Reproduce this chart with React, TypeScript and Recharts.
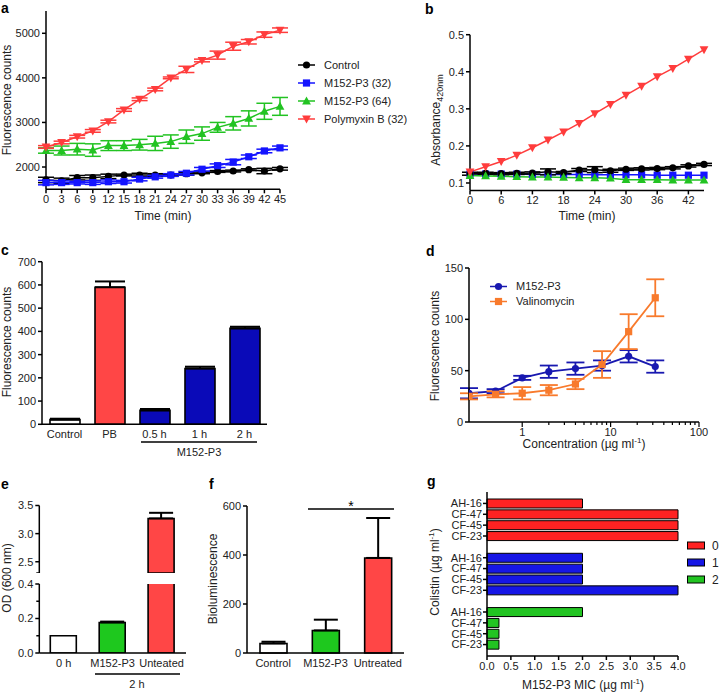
import React from 'react';
import { LineChart, Line, BarChart, Bar, XAxis, YAxis, ErrorBar, Legend, Cell } from 'recharts';

const FONT = '"Liberation Sans", Arial, Helvetica, sans-serif';
const TXT = '#222';

// ---------- panel a ----------
const timeA = [0, 3, 6, 9, 12, 15, 18, 21, 24, 27, 30, 33, 36, 39, 42, 45];
const controlA = [1710, 1690, 1760, 1760, 1790, 1820, 1820, 1820, 1820, 1850, 1870, 1900, 1910, 1940, 1910, 1960];
const controlAErr = [60, 60, 50, 60, 50, 20, 40, 30, 20, 30, 20, 20, 20, 20, 60, 30];
const m32A = [1650, 1650, 1650, 1650, 1670, 1670, 1730, 1780, 1820, 1860, 1950, 2030, 2110, 2230, 2360, 2430];
const m32AErr = [50, 40, 30, 40, 40, 30, 40, 30, 30, 40, 40, 40, 60, 40, 40, 40];
const m64A = [2370, 2370, 2400, 2380, 2480, 2480, 2500, 2530, 2570, 2680, 2750, 2890, 2980, 3090, 3250, 3360];
const m64AErr = [60, 100, 130, 140, 110, 110, 120, 160, 150, 150, 150, 110, 150, 170, 180, 200];
const pbA = [2450, 2550, 2680, 2810, 3020, 3280, 3520, 3740, 4000, 4190, 4390, 4510, 4710, 4810, 4970, 5070];
const pbAErr = [30, 30, 30, 30, 30, 30, 30, 30, 20, 70, 30, 90, 90, 50, 60, 50];
const yTicksA = [2000, 3000, 4000, 5000];
const legendA = ['Control', 'M152-P3 (32)', 'M152-P3 (64)', 'Polymyxin B (32)'];

// ---------- panel b ----------
const timeB = [0, 3, 6, 9, 12, 15, 18, 21, 24, 27, 30, 33, 36, 39, 42, 45];
const controlB = [0.125, 0.126, 0.125, 0.126, 0.127, 0.130, 0.128, 0.135, 0.136, 0.133, 0.137, 0.138, 0.139, 0.141, 0.146, 0.150];
const controlBErr = [0.004, 0.003, 0.003, 0.003, 0.003, 0.008, 0.003, 0.004, 0.008, 0.004, 0.003, 0.003, 0.003, 0.003, 0.003, 0.003];
const m32B = [0.124, 0.124, 0.124, 0.124, 0.123, 0.123, 0.123, 0.123, 0.122, 0.122, 0.122, 0.122, 0.121, 0.121, 0.121, 0.121];
const m64B = [0.120, 0.119, 0.118, 0.117, 0.116, 0.116, 0.115, 0.114, 0.114, 0.113, 0.109, 0.109, 0.109, 0.108, 0.108, 0.108];
const pbB = [0.130, 0.144, 0.158, 0.175, 0.195, 0.216, 0.238, 0.261, 0.287, 0.312, 0.337, 0.361, 0.387, 0.409, 0.434, 0.460];
const xTicksB = [0, 6, 12, 18, 24, 30, 36, 42];
const yTicksB = [0.1, 0.2, 0.3, 0.4, 0.5];

// ---------- panel c ----------
const catsC = ['Control', 'PB', '0.5 h', '1 h', '2 h'];
const valsC = [20, 590, 60, 240, 413];
const errC = [4, 25, 6, 8, 7];
const yTicksC = [0, 100, 200, 300, 400, 500, 600, 700];

// ---------- panel d ----------
const concD = [0.25, 0.5, 1, 2, 4, 8, 16, 32];
const m152D = [28, 30, 43, 49, 52, 55, 64, 54];
const m152DErr = [5, 2, 2, 6, 6, 5, 6, 6];
const valinoD = [25, 27, 28, 31, 37, 56, 88, 121];
const valinoDErr = [3, 3, 6, 5, 5, 13, 17, 18];
const majorD = [1, 10, 100];
const minorD = [2, 3, 4, 5, 6, 7, 8, 9, 20, 30, 40, 50, 60, 70, 80, 90];
const yTicksD = [0, 50, 100, 150];
const legendD = ['M152-P3', 'Valinomycin'];

// ---------- panel e ----------
const catsE = ['0 h', 'M152-P3', 'Unteated'];
const valsE = [0.1, 0.177, 3.27];
const errE = [0, 0.005, 0.1];
const upperTicksE = [2.3, 2.5, 3.0, 3.5];
const upperLabelsE = [2.5, 3.0, 3.5];
const lowerTicksE = [0, 0.1, 0.2, 0.3, 0.4];
const lowerLabelsE = [0, 0.2, 0.4];

// ---------- panel f ----------
const catsF = ['Control', 'M152-P3', 'Untreated'];
const valsF = [39, 92, 388];
const errF = [7, 44, 163];
const yTicksF = [0, 200, 400, 600];

// ---------- panel g ----------
const strainsG = ['AH-16', 'CF-47', 'CF-45', 'CF-23'];
const micCol0 = [2, 4, 4, 4];
const micCol1 = [2, 2, 2, 4];
const micCol2 = [2, 0.25, 0.25, 0.25];
const legendG = ['0', '1', '2'];
const xTicksG = [0, 0.5, 1, 1.5, 2, 2.5, 3, 3.5, 4];

// ---------- styles ----------
const RED = '#ff3c3c';
const BLUE = '#1414ff';
const GREEN = '#22c322';
const BLACK = '#000';
const BAR_RED = '#ff4646';
const BAR_BLUE = '#0a0ab8';
const BAR_GREEN = '#1ec81e';
const D_BLUE = '#1818b0';
const D_ORANGE = '#f87a2c';
const G_COLORS = ['#ff2222', '#1616e6', '#22c422'];
const colorsC = ['#ffffff', BAR_RED, BAR_BLUE, BAR_BLUE, BAR_BLUE];
const colorsE = ['#ffffff', BAR_GREEN, BAR_RED];
const colorsF = ['#ffffff', BAR_GREEN, BAR_RED];

const common = {
  axisLine: { stroke: '#000', strokeWidth: 1.5 },
  tickLine: { stroke: '#000', strokeWidth: 1.5 },
  tick: { fill: TXT, fontSize: 11, fontFamily: FONT },
  tickSize: 4,
  tickMargin: 2,
  interval: 0 as const,
};

type Shape = 'circle' | 'square' | 'up' | 'down';

function Marker({ cx, cy, shape, color }: { cx: number; cy: number; shape: Shape; color: string }) {
  if (cx == null || cy == null || isNaN(cx) || isNaN(cy)) return <g />;
  if (shape === 'circle') return <circle cx={cx} cy={cy} r={3.6} fill={color} />;
  if (shape === 'square') return <rect x={cx - 3.6} y={cy - 3.6} width={7.2} height={7.2} fill={color} />;
  if (shape === 'up')
    return <polygon points={`${cx},${cy - 4.6} ${cx + 4.4},${cy + 3.4} ${cx - 4.4},${cy + 3.4}`} fill={color} />;
  return <polygon points={`${cx},${cy + 4.6} ${cx + 4.4},${cy - 3.4} ${cx - 4.4},${cy - 3.4}`} fill={color} />;
}

const dotOf = (shape: Shape, color: string, tag: string) => (p: any) => (
  <Marker key={`${tag}-${p.index}`} cx={p.cx} cy={p.cy} shape={shape} color={color} />
);

const yTickFn = (labelled: number[], fmt: (v: number) => string) => (p: any) => {
  const v = p.payload.value;
  const major = labelled.includes(v);
  const len = major ? 4 : 3;
  return (
    <g>
      <line x1={p.x - len} x2={p.x} y1={p.y} y2={p.y} stroke="#000" strokeWidth={1.5} />
      {major && (
        <text x={p.x - 6} y={p.y} dy="0.355em" textAnchor="end" fontSize={11} fill={TXT} fontFamily={FONT}>
          {fmt(v)}
        </text>
      )}
    </g>
  );
};

const logTickD = (p: any) => {
  const v = p.payload.value;
  const major = majorD.includes(v);
  return (
    <g>
      <line x1={p.x} x2={p.x} y1={p.y} y2={p.y + (major ? 5 : 3)} stroke="#000" strokeWidth={1.2} />
      {major && (
        <text x={p.x} y={p.y + 6} dy="0.71em" textAnchor="middle" fontSize={11} fill={TXT} fontFamily={FONT}>
          {v}
        </text>
      )}
    </g>
  );
};

function LineLegend({ items, gap, width }: { items: { label: string; color: string; shape: Shape }[]; gap: number; width: number }) {
  return (
    <svg width={width} height={items.length * gap} style={{ overflow: 'visible' }}>
      {items.map((it, i) => {
        const y = gap / 2 + i * gap;
        return (
          <g key={it.label}>
            <line x1={0} x2={17} y1={y} y2={y} stroke={it.color} strokeWidth={1.5} />
            <Marker cx={8.5} cy={y} shape={it.shape} color={it.color} />
            <text x={26} y={y} dy="0.355em" fontSize={11} fill={TXT} fontFamily={FONT}>
              {it.label}
            </text>
          </g>
        );
      })}
    </svg>
  );
}

// ---------- data tables ----------
const dataA = timeA.map((t, i) => ({
  t,
  ctrl: controlA[i], ctrlErr: controlAErr[i],
  m32: m32A[i], m32Err: m32AErr[i],
  m64: m64A[i], m64Err: m64AErr[i],
  pb: pbA[i], pbErr: pbAErr[i],
}));
const dataB = timeB.map((t, i) => ({
  t,
  ctrl: controlB[i], ctrlErr: controlBErr[i],
  m32: m32B[i], m64: m64B[i], pb: pbB[i],
}));
const dataC = catsC.map((c, i) => ({ cat: c, val: valsC[i], err: [0, errC[i]] }));
const dataD = concD.map((c, i) => ({ c, m: m152D[i], mErr: m152DErr[i], v: valinoD[i], vErr: valinoDErr[i] }));
const BREAK_LOW = 2.3;
const LOWER_MAX = 0.4;
const dataEUpper = catsE.map((c, i) => ({
  cat: c,
  val: valsE[i] >= BREAK_LOW ? valsE[i] : null,
  err: valsE[i] >= BREAK_LOW && errE[i] ? [0, errE[i]] : 0,
}));
const dataELower = catsE.map((c, i) => ({
  cat: c,
  val: valsE[i],
  err: valsE[i] <= LOWER_MAX && errE[i] ? [0, errE[i]] : 0,
}));
const dataF = catsF.map((c, i) => ({ cat: c, val: valsF[i], err: [0, errF[i]] }));
const rowsG: { id: string; strain: string; mic: number | null; group: number }[] = [];
[micCol0, micCol1, micCol2].forEach((arr, g) => {
  if (g > 0) rowsG.push({ id: `gap${g}`, strain: '', mic: null, group: -1 });
  strainsG.forEach((s, i) => rowsG.push({ id: `r${g}-${i}`, strain: s, mic: arr[i], group: g }));
});
const strainById: Record<string, string> = {};
rowsG.forEach((r) => (strainById[r.id] = r.strain));

const tickG = (p: any) => {
  const lbl = strainById[p.payload.value];
  if (!lbl) return <g />;
  return (
    <g>
      <line x1={p.x - 4} x2={p.x} y1={p.y} y2={p.y} stroke="#000" strokeWidth={1.5} />
      <text x={p.x - 5} y={p.y} dy="0.355em" textAnchor="end" fontSize={11} fill={TXT} fontFamily={FONT}>
        {lbl}
      </text>
    </g>
  );
};

function ChartA() {
  const items = [
    { label: legendA[0], color: BLACK, shape: 'circle' as Shape },
    { label: legendA[1], color: BLUE, shape: 'square' as Shape },
    { label: legendA[2], color: GREEN, shape: 'up' as Shape },
    { label: legendA[3], color: RED, shape: 'down' as Shape },
  ];
  return (
    <LineChart width={420} height={230} data={dataA} margin={{ top: 11, right: 140, bottom: 0, left: 0 }}>
      <XAxis dataKey="t" type="number" domain={[0, 45]} ticks={timeA} height={40.7} {...common} />
      <YAxis type="number" domain={[1500, 5500]} ticks={yTicksA} width={46} {...common} />
      <Line dataKey="ctrl" stroke={BLACK} strokeWidth={1.5} dot={dotOf('circle', BLACK, 'ac')} activeDot={false} isAnimationActive={false}>
        <ErrorBar dataKey="ctrlErr" width={8} stroke={BLACK} strokeWidth={1.5} />
      </Line>
      <Line dataKey="m32" stroke={BLUE} strokeWidth={1.5} dot={dotOf('square', BLUE, 'ab')} activeDot={false} isAnimationActive={false}>
        <ErrorBar dataKey="m32Err" width={8} stroke={BLUE} strokeWidth={1.5} />
      </Line>
      <Line dataKey="m64" stroke={GREEN} strokeWidth={1.5} dot={dotOf('up', GREEN, 'ag')} activeDot={false} isAnimationActive={false}>
        <ErrorBar dataKey="m64Err" width={8} stroke={GREEN} strokeWidth={1.5} />
      </Line>
      <Line dataKey="pb" stroke={RED} strokeWidth={1.5} dot={dotOf('down', RED, 'ar')} activeDot={false} isAnimationActive={false}>
        <ErrorBar dataKey="pbErr" width={8} stroke={RED} strokeWidth={1.5} />
      </Line>
      <Legend
        layout="vertical"
        align="center"
        verticalAlign="middle"
        wrapperStyle={{ left: 298, top: 56, width: 120 }}
        content={() => <LineLegend items={items} gap={18} width={120} />}
      />
    </LineChart>
  );
}

function ChartB() {
  return (
    <LineChart width={315} height={230} data={dataB} margin={{ top: 34.7, right: 11, bottom: 0, left: 0 }}>
      <XAxis dataKey="t" type="number" domain={[0, 45]} ticks={xTicksB} height={39.6} {...common} />
      <YAxis type="number" domain={[0.08, 0.5]} ticks={yTicksB} width={70} tickFormatter={(v: number) => v.toFixed(1)} {...common} />
      <Line dataKey="m32" stroke={BLUE} strokeWidth={1.5} dot={dotOf('square', BLUE, 'bb')} activeDot={false} isAnimationActive={false} />
      <Line dataKey="ctrl" stroke={BLACK} strokeWidth={1.5} dot={dotOf('circle', BLACK, 'bc')} activeDot={false} isAnimationActive={false}>
        <ErrorBar dataKey="ctrlErr" width={8} stroke={BLACK} strokeWidth={1.5} />
      </Line>
      <Line dataKey="m64" stroke={GREEN} strokeWidth={1.5} dot={dotOf('up', GREEN, 'bg')} activeDot={false} isAnimationActive={false} />
      <Line dataKey="pb" stroke={RED} strokeWidth={1.5} dot={dotOf('down', RED, 'br')} activeDot={false} isAnimationActive={false} />
    </LineChart>
  );
}

function ChartC() {
  return (
    <BarChart width={280} height={210} data={dataC} margin={{ top: 11.7, right: 13, bottom: 0, left: 0 }}>
      <XAxis dataKey="cat" height={35.7} {...common} tickLine={false} />
      <YAxis type="number" domain={[0, 700]} ticks={yTicksC} width={42} {...common} />
      <Bar dataKey="val" barSize={30} stroke="#000" strokeWidth={1.6} isAnimationActive={false}>
        {catsC.map((c, i) => (
          <Cell key={c} fill={colorsC[i]} />
        ))}
        <ErrorBar dataKey="err" width={15} stroke="#000" strokeWidth={2} />
      </Bar>
    </BarChart>
  );
}

function ChartD() {
  const items = [
    { label: legendD[0], color: D_BLUE, shape: 'circle' as Shape },
    { label: legendD[1], color: D_ORANGE, shape: 'square' as Shape },
  ];
  return (
    <LineChart width={315} height={210} data={dataD} margin={{ top: 18, right: 16, bottom: 0, left: 0 }}>
      <XAxis
        dataKey="c"
        type="number"
        scale="log"
        domain={[0.25, 100]}
        allowDataOverflow
        ticks={[...majorD, ...minorD].sort((a, b) => a - b)}
        height={38}
        axisLine={{ stroke: '#000', strokeWidth: 1.5 }}
        tickLine={false}
        tickSize={0}
        tickMargin={0}
        interval={0}
        tick={logTickD}
      />
      <YAxis type="number" domain={[0, 150]} ticks={yTicksD} width={69} {...common} />
      <Line dataKey="m" stroke={D_BLUE} strokeWidth={1.8} dot={dotOf('circle', D_BLUE, 'dm')} activeDot={false} isAnimationActive={false}>
        <ErrorBar dataKey="mErr" width={9} stroke={D_BLUE} strokeWidth={1.8} />
      </Line>
      <Line dataKey="v" stroke={D_ORANGE} strokeWidth={1.8} dot={dotOf('square', D_ORANGE, 'dv')} activeDot={false} isAnimationActive={false}>
        <ErrorBar dataKey="vErr" width={9} stroke={D_ORANGE} strokeWidth={1.8} />
      </Line>
      <Legend
        layout="vertical"
        align="center"
        verticalAlign="middle"
        wrapperStyle={{ left: 90, top: 28.5, width: 120 }}
        content={() => <LineLegend items={items} gap={15} width={120} />}
      />
    </LineChart>
  );
}

function ChartEUpper() {
  return (
    <BarChart width={190} height={78} data={dataEUpper} margin={{ top: 10.5, right: 4, bottom: 0, left: 0 }}>
      <XAxis dataKey="cat" hide />
      <YAxis
        type="number"
        domain={[BREAK_LOW, 3.5]}
        allowDataOverflow
        ticks={upperTicksE}
        width={39.3}
        axisLine={{ stroke: '#000', strokeWidth: 1.5 }}
        tickLine={false}
        tickSize={0}
        tickMargin={0}
        interval={0}
        tick={yTickFn(upperLabelsE, (v) => v.toFixed(1))}
      />
      <Bar dataKey="val" barSize={26} stroke="#000" strokeWidth={1.6} isAnimationActive={false}>
        {catsE.map((c, i) => (
          <Cell key={c} fill={colorsE[i]} />
        ))}
        <ErrorBar dataKey="err" width={12} stroke="#000" strokeWidth={2} />
      </Bar>
    </BarChart>
  );
}

function ChartELower() {
  return (
    <BarChart width={190} height={116} data={dataELower} margin={{ top: 6, right: 4, bottom: 0, left: 0 }}>
      <XAxis dataKey="cat" height={41} {...common} tickLine={false} />
      <YAxis
        type="number"
        domain={[0, LOWER_MAX]}
        allowDataOverflow
        ticks={lowerTicksE}
        width={39.3}
        axisLine={{ stroke: '#000', strokeWidth: 1.5 }}
        tickLine={false}
        tickSize={0}
        tickMargin={0}
        interval={0}
        tick={yTickFn(lowerLabelsE, (v) => v.toFixed(1))}
      />
      <Bar dataKey="val" barSize={26} stroke="#000" strokeWidth={1.6} isAnimationActive={false}>
        {catsE.map((c, i) => (
          <Cell key={c} fill={colorsE[i]} />
        ))}
        <ErrorBar dataKey="err" width={12} stroke="#000" strokeWidth={2} />
      </Bar>
    </BarChart>
  );
}

function ChartF() {
  return (
    <BarChart width={215} height={199} data={dataF} margin={{ top: 11, right: 1, bottom: 0, left: 0 }}>
      <XAxis dataKey="cat" height={41} {...common} tickLine={false} />
      <YAxis type="number" domain={[0, 600]} ticks={yTicksF} width={57} {...common} />
      <Bar dataKey="val" barSize={27} stroke="#000" strokeWidth={1.6} isAnimationActive={false}>
        {catsF.map((c, i) => (
          <Cell key={c} fill={colorsF[i]} />
        ))}
        <ErrorBar dataKey="err" width={12} stroke="#000" strokeWidth={2} />
      </Bar>
    </BarChart>
  );
}

function ChartG() {
  return (
    <BarChart width={320} height={214} data={rowsG} layout="vertical" margin={{ top: 12, right: 42, bottom: 0, left: 0 }}>
      <XAxis type="number" domain={[0, 4]} ticks={xTicksG} height={38} tickFormatter={(v: number) => v.toFixed(1)} {...common} />
      <YAxis
        type="category"
        dataKey="id"
        width={87}
        padding={{ top: 6, bottom: 6 }}
        axisLine={{ stroke: '#000', strokeWidth: 1.5 }}
        tickLine={false}
        tickSize={0}
        tickMargin={0}
        interval={0}
        tick={tickG}
      />
      <Bar dataKey="mic" barSize={9} stroke="#000" strokeWidth={1} isAnimationActive={false}>
        {rowsG.map((r) => (
          <Cell key={r.id} fill={r.group >= 0 ? G_COLORS[r.group] : 'none'} />
        ))}
      </Bar>
      <Legend
        layout="vertical"
        align="center"
        verticalAlign="middle"
        wrapperStyle={{ left: 287, top: 56.5, width: 33 }}
        content={() => (
          <svg width={33} height={54} style={{ overflow: 'visible' }}>
            {legendG.map((l, i) => (
              <g key={l}>
                <rect x={0.5} y={8.5 + i * 17 - 3.5} width={17} height={7} fill={G_COLORS[i]} stroke="#000" strokeWidth={1} />
                <text x={25} y={8.5 + i * 17} dy="0.355em" fontSize={12} fill={TXT} fontFamily={FONT}>
                  {l}
                </text>
              </g>
            ))}
          </svg>
        )}
      />
    </BarChart>
  );
}

const letter = { fontSize: 14, fontWeight: 'bold' as const, fill: '#000' };
const title = { fontSize: 12, fill: TXT };

export default function App() {
  return (
    <div style={{ position: 'absolute', left: 0, top: 0, width: 720, height: 694, background: '#fff', fontFamily: FONT, overflow: 'hidden' }}>
      <div style={{ position: 'absolute', left: 0, top: 0 }}><ChartA /></div>
      <div style={{ position: 'absolute', left: 400, top: 0 }}><ChartB /></div>
      <div style={{ position: 'absolute', left: 0, top: 250 }}><ChartC /></div>
      <div style={{ position: 'absolute', left: 400, top: 250 }}><ChartD /></div>
      <div style={{ position: 'absolute', left: 0, top: 495 }}><ChartEUpper /></div>
      <div style={{ position: 'absolute', left: 0, top: 578 }}><ChartELower /></div>
      <div style={{ position: 'absolute', left: 190, top: 495 }}><ChartF /></div>
      <div style={{ position: 'absolute', left: 400, top: 480 }}><ChartG /></div>
      <svg width={720} height={694} style={{ position: 'absolute', left: 0, top: 0, pointerEvents: 'none' }} fontFamily={FONT}>
        <text x={1} y={13} {...letter}>a</text>
        <text x={425} y={14} {...letter}>b</text>
        <text x={1} y={255} {...letter}>c</text>
        <text x={426} y={256} {...letter}>d</text>
        <text x={1} y={489} {...letter}>e</text>
        <text x={209} y={489} {...letter}>f</text>
        <text x={427} y={486} {...letter}>g</text>

        <text transform="translate(11,100) rotate(-90)" textAnchor="middle" {...title}>Fluorescence counts</text>
        <text x={163} y={220} textAnchor="middle" {...title}>Time (min)</text>

        <text transform="translate(440,120) rotate(-90)" textAnchor="middle" {...title}>
          Absorbance<tspan fontSize={9} dy={3}>420nm</tspan>
        </text>
        <text x={587} y={220} textAnchor="middle" {...title}>Time (min)</text>

        <text transform="translate(11,342) rotate(-90)" textAnchor="middle" {...title}>Fluorescence counts</text>
        <line x1={141} x2={257} y1={442} y2={442} stroke="#000" strokeWidth={1.5} />
        <text x={199} y={456} textAnchor="middle" fontSize={11} fill={TXT}>M152-P3</text>

        <text transform="translate(439,346) rotate(-90)" textAnchor="middle" {...title}>Fluorescence counts</text>
        <text x={584} y={448} textAnchor="middle" {...title}>
          Concentration (µg ml<tspan fontSize={8} dy={-5}>-1</tspan><tspan dy={5}>)</tspan>
        </text>

        <text transform="translate(11,578) rotate(-90)" textAnchor="middle" {...title}>OD (600 nm)</text>
        <line x1={95} x2={180} y1={674} y2={674} stroke="#000" strokeWidth={1.5} />
        <text x={137} y={688} textAnchor="middle" fontSize={11} fill={TXT}>2 h</text>

        <text transform="translate(217,579) rotate(-90)" textAnchor="middle" {...title}>Bioluminescence</text>
        <line x1={308} x2={394} y1={509} y2={509} stroke="#000" strokeWidth={1.5} />
        <text x={351} y={511} textAnchor="middle" fontSize={14} fill="#000">*</text>

        <text transform="translate(439,572) rotate(-90)" textAnchor="middle" {...title}>
          Colistin (µg ml<tspan fontSize={8} dy={-5}>-1</tspan><tspan dy={5}>)</tspan>
        </text>
        <text x={583} y={689} textAnchor="middle" {...title}>
          M152-P3 MIC (µg ml<tspan fontSize={8} dy={-5}>-1</tspan><tspan dy={5}>)</tspan>
        </text>
      </svg>
    </div>
  );
}
